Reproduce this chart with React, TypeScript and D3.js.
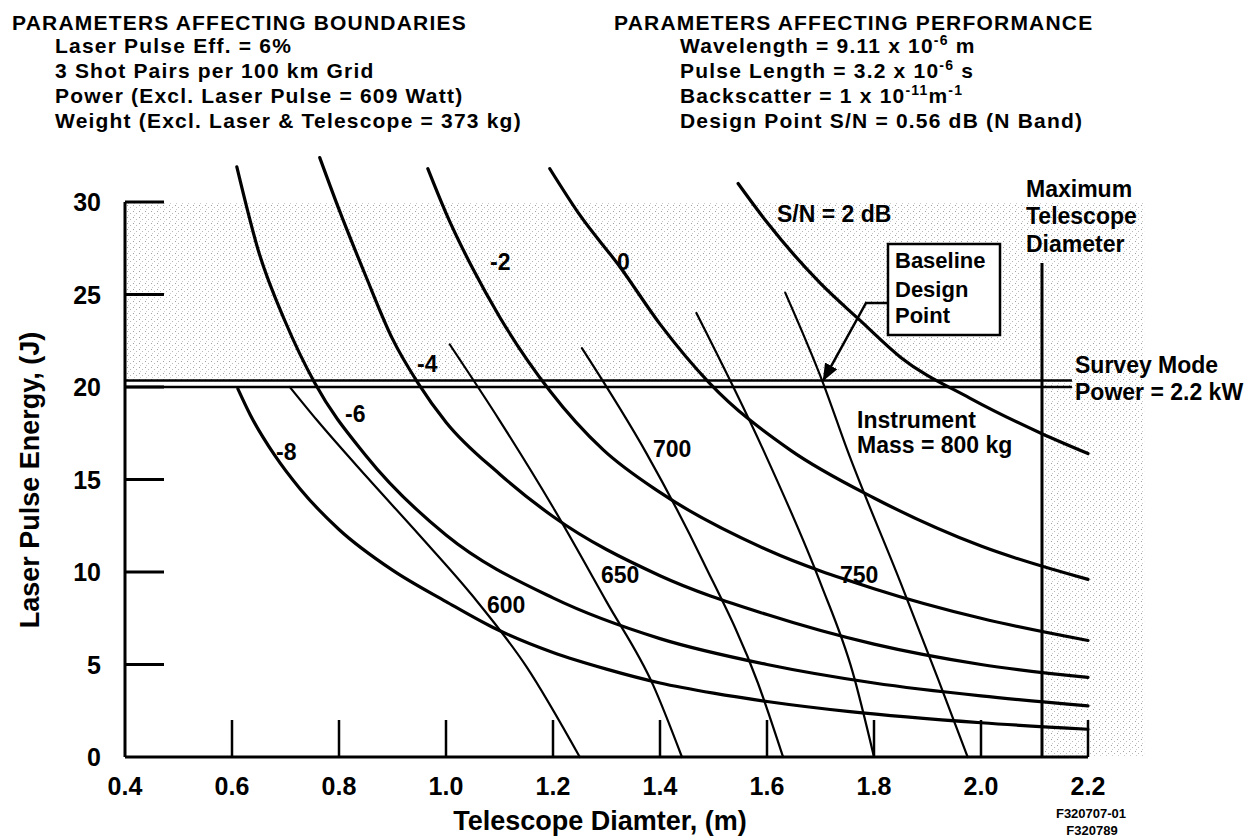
import React from 'react';
import * as d3 from 'd3';

const W = 1250;
const H = 837;
const FONT = '"Liberation Sans", Arial, Helvetica, sans-serif';

const X_TICKS = [0.4, 0.6, 0.8, 1.0, 1.2, 1.4, 1.6, 1.8, 2.0, 2.2];
const X_TICK_LABELS = ['0.4', '0.6', '0.8', '1.0', '1.2', '1.4', '1.6', '1.8', '2.0', '2.2'];
const Y_TICKS = [0, 5, 10, 15, 20, 25, 30];

// S/N contours, dB  -> [telescope diameter (m), laser pulse energy (J)]
const SN_P2 = [[1.546, 31.0], [1.6, 28.9], [1.7, 25.6], [1.774, 23.6], [1.85, 21.6], [1.979, 19.4], [2.112, 17.5], [2.2, 16.4]];
const SN_0 = [[1.194, 31.8], [1.25, 29.3], [1.325, 26.5], [1.4, 23.4], [1.493, 20.2], [1.643, 16.6], [1.8, 14.0], [2.0, 11.4], [2.2, 9.6]];
const SN_M2 = [[0.966, 31.8], [1.0, 29.4], [1.05, 26.4], [1.1, 23.8], [1.194, 19.8], [1.294, 16.6], [1.4, 14.3], [1.6, 11.2], [1.8, 9.1], [2.0, 7.5], [2.2, 6.3]];
const SN_M4 = [[0.764, 32.4], [0.8, 29.6], [0.85, 26.0], [0.9, 22.6], [0.948, 20.2], [1.0, 18.1], [1.1, 15.3], [1.2, 13.0], [1.4, 9.8], [1.6, 7.7], [1.8, 6.1], [2.0, 5.0], [2.2, 4.3]];
const SN_M6 = [[0.609, 31.9], [0.65, 27.3], [0.7, 23.5], [0.755, 20.2], [0.85, 16.3], [1.0, 12.0], [1.2, 8.6], [1.4, 6.4], [1.6, 5.0], [1.8, 4.0], [2.0, 3.3], [2.2, 2.76]];
const SN_M8 = [[0.611, 19.9], [0.634, 18.5], [0.68, 16.3], [0.727, 14.5], [0.8, 12.3], [0.9, 10.1], [1.0, 8.4], [1.088, 7.0], [1.2, 5.65], [1.3, 4.75], [1.4, 4.0], [1.5, 3.45], [1.6, 3.0], [1.755, 2.45], [2.0, 1.85], [2.2, 1.5]];

// instrument mass lines, kg
const MASS_600 = [[0.708, 20.0], [0.759, 18.2], [0.85, 15.2], [0.95, 12.0], [1.05, 8.7], [1.15, 4.9], [1.25, 0]];
const MASS_650 = [[1.007, 22.3], [1.1, 18.2], [1.2, 13.5], [1.3, 8.4], [1.387, 3.9], [1.441, 0]];
const MASS_700 = [[1.254, 22.1], [1.375, 16.4], [1.48, 10.6], [1.583, 4.0], [1.63, 0]];
const MASS_750 = [[1.468, 24.0], [1.593, 16.6], [1.7, 9.4], [1.76, 4.6], [1.8, 0]];
const MASS_800 = [[1.634, 25.1], [1.705, 20.2], [1.75, 16.6], [1.85, 9.4], [1.92, 4.2], [1.975, 0]];

const SN_CURVES = [SN_P2, SN_0, SN_M2, SN_M4, SN_M6, SN_M8];
const MASS_LINES = [MASS_600, MASS_650, MASS_700, MASS_750, MASS_800];

const MAX_DIAMETER = 2.114;
const SURVEY_POWER_E = 20.35;
const PULSE_LIMIT_E = 20;
const DESIGN_POINT = [1.705, 20.35];

export default function App() {
  const x = d3.scaleLinear().domain([0.4, 2.2]).range([125, 1088]);
  const y = d3.scaleLinear().domain([0, 30]).range([757, 202]);
  const line = d3.line<number[]>().x(d => x(d[0])).y(d => y(d[1])).curve(d3.curveMonotoneX);

  // stippled (excluded) region
  const shade = [
    [x(0.4), y(30)], [x(2.305), y(30)], [x(2.305), y(0)],
    [x(MAX_DIAMETER), y(0)], [x(MAX_DIAMETER), y(SURVEY_POWER_E)], [x(0.4), y(SURVEY_POWER_E)],
  ];

  const tip = [x(DESIGN_POINT[0]), y(DESIGN_POINT[1])];
  const bend = [866, 303];

  const txt = { fontFamily: FONT, fontWeight: 700, fill: '#000' } as const;

  return (
    <svg width={W} height={H} style={{ position: 'absolute', left: 0, top: 0, background: '#fff' }}>
      <defs>
        <pattern id="stip" width="6" height="6" patternUnits="userSpaceOnUse">
          <rect x="1" y="1" width="1" height="1" fill="#a0a0a0" />
          <rect x="4" y="3" width="1" height="1" fill="#b8b8b8" />
          <rect x="2" y="5" width="1" height="1" fill="#cacaca" />
        </pattern>
        <marker id="arr" viewBox="0 0 10 10" refX="9.5" refY="5" markerWidth="7" markerHeight="7" orient="auto">
          <path d="M0,1 L10,5 L0,9 z" fill="#000" />
        </marker>
      </defs>

      <polygon points={shade.map(p => p.join(',')).join(' ')} fill="url(#stip)" />

      {/* headers */}
      <g style={txt} fontSize={21} letterSpacing={1.2}>
        <text x={12} y={30}>PARAMETERS AFFECTING BOUNDARIES</text>
        <text x={55} y={53}>Laser Pulse Eff. = 6%</text>
        <text x={55} y={78}>3 Shot Pairs per 100 km Grid</text>
        <text x={55} y={103}>Power (Excl. Laser Pulse = 609 Watt)</text>
        <text x={55} y={128}>Weight (Excl. Laser &amp; Telescope = 373 kg)</text>

        <text x={614} y={30}>PARAMETERS AFFECTING PERFORMANCE</text>
        <text x={680} y={53}>Wavelength = 9.11 x 10<tspan dy={-8} fontSize={14}>-6</tspan><tspan dy={8}> m</tspan></text>
        <text x={680} y={78}>Pulse Length = 3.2 x 10<tspan dy={-8} fontSize={14}>-6</tspan><tspan dy={8}> s</tspan></text>
        <text x={680} y={103}>Backscatter = 1 x 10<tspan dy={-8} fontSize={14}>-11</tspan><tspan dy={8}>m</tspan><tspan dy={-8} fontSize={14}>-1</tspan></text>
        <text x={680} y={128}>Design Point S/N = 0.56 dB (N Band)</text>
      </g>

      {/* axes */}
      <g stroke="#000" strokeWidth={3} fill="none">
        <line x1={x(0.4)} x2={x(0.4)} y1={y(30)} y2={y(0)} />
        <line x1={x(0.4)} x2={x(2.2)} y1={y(0)} y2={y(0)} />
        {Y_TICKS.filter(t => t > 0).map(t => (
          <line key={'yt' + t} x1={x(0.4)} x2={x(0.4) + 39} y1={y(t)} y2={y(t)} />
        ))}
        {X_TICKS.filter(t => t > 0.4).map(t => (
          <line key={'xt' + t} x1={x(t)} x2={x(t)} y1={y(0)} y2={y(0) - 37} strokeWidth={2.5} />
        ))}
      </g>
      <g style={txt} fontSize={25}>
        {Y_TICKS.map(t => (
          <text key={'yl' + t} x={101} y={y(t) + 9} textAnchor="end">{t}</text>
        ))}
        {X_TICKS.map((t, i) => (
          <text key={'xl' + t} x={x(t)} y={795} textAnchor="middle">{X_TICK_LABELS[i]}</text>
        ))}
      </g>
      <g style={txt} fontSize={27}>
        <text x={600} y={830} textAnchor="middle">Telescope Diamter, (m)</text>
        <text transform="translate(39,480) rotate(-90)" textAnchor="middle">Laser Pulse Energy, (J)</text>
      </g>
      <g style={txt} fontSize={13}>
        <text x={1091} y={818} textAnchor="middle">F320707-01</text>
        <text x={1092} y={835} textAnchor="middle">F320789</text>
      </g>

      {/* boundaries */}
      <g stroke="#000" strokeWidth={2.5} fill="none">
        <line x1={x(0.4)} x2={x(2.17)} y1={y(SURVEY_POWER_E)} y2={y(SURVEY_POWER_E)} />
        <line x1={x(0.4)} x2={x(2.17)} y1={y(PULSE_LIMIT_E)} y2={y(PULSE_LIMIT_E)} />
        <line x1={x(MAX_DIAMETER)} x2={x(MAX_DIAMETER)} y1={y(26.7)} y2={y(0)} strokeWidth={3} />
      </g>

      {/* curves */}
      <g fill="none" stroke="#000" strokeLinecap="round">
        {SN_CURVES.map((c, i) => <path key={'sn' + i} d={line(c) || ''} strokeWidth={3.2} />)}
        {MASS_LINES.map((c, i) => <path key={'m' + i} d={line(c) || ''} strokeWidth={2.2} />)}
      </g>

      {/* curve labels */}
      <g style={txt} fontSize={23}>
        <text x={777} y={222}>S/N = 2 dB</text>
        <text x={617} y={270}>0</text>
        <text x={490} y={270}>-2</text>
        <text x={417} y={372}>-4</text>
        <text x={345} y={422}>-6</text>
        <text x={276} y={460}>-8</text>
        <text x={487} y={613}>600</text>
        <text x={601} y={583}>650</text>
        <text x={653} y={457}>700</text>
        <text x={840} y={583}>750</text>
        <text x={857} y={428}>Instrument</text>
        <text x={857} y={453}>Mass = 800 kg</text>
        <text x={1026} y={197}>Maximum</text>
        <text x={1026} y={224}>Telescope</text>
        <text x={1026} y={252}>Diameter</text>
        <text x={1075} y={373}>Survey Mode</text>
        <text x={1075} y={400}>Power = 2.2 kW</text>
      </g>

      {/* baseline design point callout */}
      <rect x={888} y={244} width={112} height={91} fill="#fff" stroke="#000" strokeWidth={2.5} />
      <g style={txt} fontSize={22}>
        <text x={895} y={268}>Baseline</text>
        <text x={895} y={297}>Design</text>
        <text x={895} y={323}>Point</text>
      </g>
      <polyline
        points={`888,${bend[1]} ${bend[0]},${bend[1]} ${tip[0]},${tip[1]}`}
        fill="none" stroke="#000" strokeWidth={2.5} markerEnd="url(#arr)"
      />
    </svg>
  );
}
